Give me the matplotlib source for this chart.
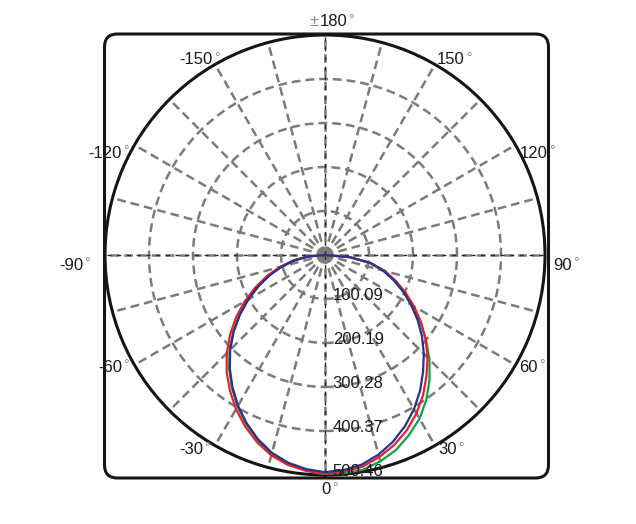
import numpy as np
import matplotlib
matplotlib.use("Agg")
import matplotlib.pyplot as plt
from matplotlib.patches import FancyBboxPatch

plt.rcParams['font.family'] = ['Liberation Sans', 'DejaVu Sans']

# angles in degrees (0 = straight down), intensity values
angles = [-90, -85, -80, -75, -70, -65, -60, -55, -50, -45, -40, -35, -30, -25, -20, -15, -10, -5,
          0, 5, 10, 15, 20, 25, 30, 35, 40, 45, 50, 55, 60, 65, 70, 75, 80, 85, 90]
green = [0, 40, 72, 103, 135, 168, 203, 238, 273, 307, 339, 369, 398, 424, 448, 468, 483, 492,
         500, 499, 496, 486, 472, 452, 430, 402, 370, 336, 300, 264, 229, 196, 166, 137, 104, 56, 0]
red = [0, 40, 74, 107, 141, 175, 211, 247, 282, 316, 348, 377, 405, 430, 453, 472, 485, 493,
       498, 495, 489, 476, 460, 440, 416, 389, 359, 330, 299, 267, 234, 202, 171, 141, 107, 58, 0]
blue = [0, 38, 70, 101, 133, 166, 201, 236, 271, 305, 337, 367, 396, 422, 446, 466, 480, 489,
        494, 491, 484, 470, 452, 430, 405, 377, 347, 318, 288, 257, 226, 196, 166, 137, 104, 56, 0]

r_ticks = [100.09, 200.19, 300.28, 400.37, 500.46]
r_max = 500.46

# angle labels: (number, right-edge x px, y px)
ang_labels = [("0", 331, 490), ("30", 457, 450), ("-30", 203, 450),
              ("60", 538, 367), ("-60", 122, 367), ("90", 572, 265), ("-90", 83, 265),
              ("120", 548, 153), ("-120", 122, 153), ("150", 465, 60), ("-150", 213, 60),
              ("180", 347, 22)]

W, H = 636, 524
fig = plt.figure(figsize=(W / 100, H / 100), dpi=100)
ax = fig.add_axes([105 / W, 49 / H, 440 / W, 440 / H], projection='polar')
ax.set_theta_zero_location('S')
ax.set_theta_direction(1)
ax.set_ylim(0, r_max)
ax.set_yticks(r_ticks[:-1])
ax.set_yticklabels([])
ax.set_xticks(np.radians(np.arange(0, 360, 15)))
ax.set_xticklabels([])
ax.grid(True, color='#7b7b7b', linestyle=(0, (3.5, 2)), linewidth=1.8)
ax.spines['polar'].set_color('#151515')
ax.spines['polar'].set_linewidth(2.2)
ax.patch.set_alpha(0)

# darker dashed axis lines through the centre
for a in [0, 90, 180, 270]:
    ax.plot([np.radians(a), np.radians(a)], [0, r_max], color='#2a2a2a',
            lw=1.0, linestyle=(0, (3, 4)), zorder=2)

th = np.radians(angles)
ax.plot(th, green, color='#1a9a4c', lw=1.6, zorder=4)
ax.plot(th, red, color='#e0242b', lw=1.6, zorder=5)
ax.plot(th, blue, color='#2d2f8c', lw=1.6, zorder=6)

for r in r_ticks:
    ax.annotate(f"{r:.2f}", xy=(0, r), xytext=(5.5, 2.5), textcoords='offset points',
                ha='left', va='center', fontsize=12, color='#1a1a1a', zorder=7)

for txt, x, y in ang_labels:
    fig.text(x / W, 1 - y / H, txt, ha='right', va='center', fontsize=12, color='#1a1a1a')
    fig.text((x + 1) / W, 1 - (y - 9) / H, "°", ha='left', va='top', fontsize=10, color='#8c8c8c')
fig.text((347 - 28) / W, 1 - 22 / H, "±", ha='right', va='center', fontsize=12, color='#8c8c8c')

frame = FancyBboxPatch((1.045, 0.46), 4.44, 4.44, boxstyle='round,pad=0,rounding_size=0.13',
                       transform=fig.dpi_scale_trans, fill=False, lw=2.2, ec='#151515', zorder=1)
fig.add_artist(frame)

fig.savefig("out.png", dpi=100)
